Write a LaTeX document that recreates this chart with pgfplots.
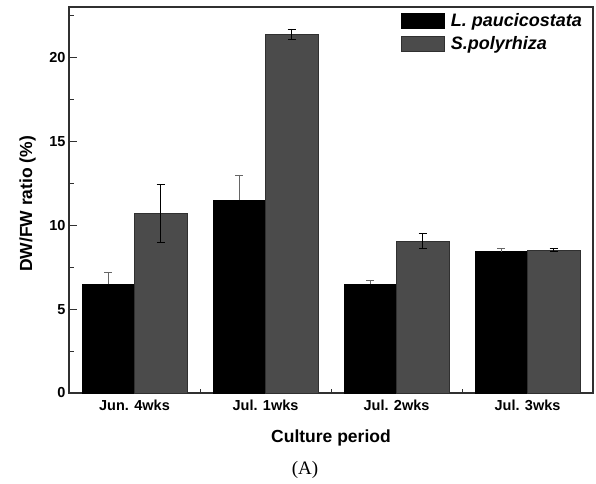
\documentclass[border=0pt]{standalone}
\usepackage{fontspec}
\setmainfont{Liberation Sans}
\newfontfamily\timesf{Liberation Serif}
\usepackage{pgfplots}
\pgfplotsset{compat=1.18}
\definecolor{bargray}{HTML}{4B4B4B}
\definecolor{axisgray}{HTML}{303030}
\begin{document}
\begin{tikzpicture}
\useasboundingbox (-69bp,-91bp) rectangle (527bp,393bp);
\begin{axis}[
  at={(0,0)}, anchor=south west,
  scale only axis, width=524bp, height=386bp,
  xmin=-0.5, xmax=3.5, ymin=0, ymax=23,
  ybar=0pt, bar width=0.4,
  axis line style={axisgray, line width=1.2bp},
  xtick={0,1,2,3},
  xticklabels={Jun. 4wks, Jul. 1wks, Jul. 2wks, Jul. 3wks},
  minor xtick={0.5,1.5,2.5},
  major x tick style={draw=none},
  minor x tick style={axisgray, line width=1bp},
  ytick={0,5,10,15,20},
  minor ytick={2.5,7.5,12.5,17.5,22.5},
  y tick style={axisgray, line width=1bp},
  tick align=inside,
  xtick pos=bottom, ytick pos=left,
  major tick length=7.5bp, minor tick length=4.5bp,
  /pgf/number format/assume math mode=true,
  tick label style={font=\fontsize{14.5bp}{17bp}\selectfont\bfseries},
  xticklabel style={yshift=-3bp},
  yticklabel style={xshift=0bp},
  xlabel={Culture period},
  ylabel={DW/FW ratio (\%)},
  label style={font=\fontsize{17.5bp}{20bp}\selectfont\bfseries},
  xlabel style={at={(axis description cs:0.5,-0.117)}, anchor=center},
  ylabel style={at={(axis description cs:-0.079,0.49)}, anchor=center},
  legend style={draw=none, fill=none, at={(axis description cs:0.628,0.995)}, anchor=north west,
    font=\fontsize{18bp}{20bp}\selectfont\bfseries\itshape, row sep=5bp,
    legend cell align=left,
    /tikz/every odd column/.append style={column sep=4bp}},
]
\addplot[fill=black, draw=black, line width=0.6bp, bar shift=-0.2,
  legend image code/.code={\draw[fill=black, draw=black] (0bp,-7.5bp) rectangle (43bp,7.5bp);},
  error bars/.cd, y dir=plus, y explicit,
  error bar style={color=gray!80!black, line width=0.9bp},
  error mark options={rotate=90, mark size=4bp, color=gray!80!black, line width=0.9bp}]
  coordinates {
  (0,6.49) +- (0,0.67)
  (1,11.49) +- (0,1.50)
  (2,6.49) +- (0,0.24)
  (3,8.43) +- (0,0.18)
  };
\addplot[fill=bargray, draw=axisgray, line width=0.6bp, bar shift=0.2,
  legend image code/.code={\draw[fill=bargray, draw=axisgray] (0bp,-7.5bp) rectangle (43bp,7.5bp);},
  error bars/.cd, y dir=both, y explicit,
  error bar style={color=black, line width=0.9bp},
  error mark options={rotate=90, mark size=4bp, color=black, line width=0.9bp}]
  coordinates {
  (0,10.70) +- (0,1.75)
  (1,21.39) +- (0,0.30)
  (2,9.05) +- (0,0.43)
  (3,8.51) +- (0,0.08)
  };
\legend{L. paucicostata, S.polyrhiza}
\end{axis}
\node[font=\timesf\fontsize{19bp}{21bp}\selectfont] at (236bp,-77bp) {(A)};
\end{tikzpicture}
\end{document}
